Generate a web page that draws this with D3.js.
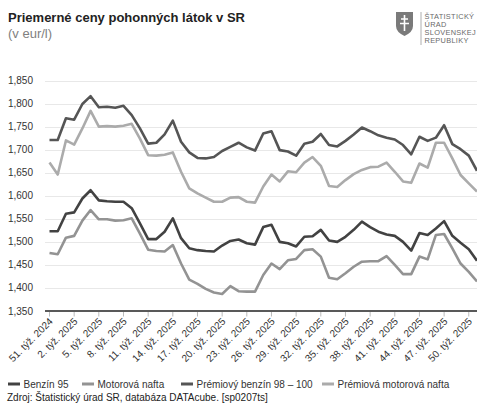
<html>
<head>
    <meta charset="utf-8">
    <title>Priemerne ceny pohonnych latok</title>
    <style type="text/css">
        body { margin: 0; background: #fff; }
        text { font-family: "Liberation Sans", Arial, sans-serif; }
        .grid line { stroke: #e8e8e8; stroke-width: 1; }
        .line { fill: none; stroke-width: 2.6; stroke-linejoin: round; }
    </style>
</head>
<body>
<script src="https://d3js.org/d3.v7.min.js"></script>
<script>

// weeks (categories)
var weeks = ["51. týž. 2024", "52. týž. 2024",
    "1. týž. 2025", "2. týž. 2025", "3. týž. 2025", "4. týž. 2025", "5. týž. 2025", "6. týž. 2025",
    "7. týž. 2025", "8. týž. 2025", "9. týž. 2025", "10. týž. 2025", "11. týž. 2025", "12. týž. 2025",
    "13. týž. 2025", "14. týž. 2025", "15. týž. 2025", "16. týž. 2025", "17. týž. 2025", "18. týž. 2025",
    "19. týž. 2025", "20. týž. 2025", "21. týž. 2025", "22. týž. 2025", "23. týž. 2025", "24. týž. 2025",
    "25. týž. 2025", "26. týž. 2025", "27. týž. 2025", "28. týž. 2025", "29. týž. 2025", "30. týž. 2025",
    "31. týž. 2025", "32. týž. 2025", "33. týž. 2025", "34. týž. 2025", "35. týž. 2025", "36. týž. 2025",
    "37. týž. 2025", "38. týž. 2025", "39. týž. 2025", "40. týž. 2025", "41. týž. 2025", "42. týž. 2025",
    "43. týž. 2025", "44. týž. 2025", "45. týž. 2025", "46. týž. 2025", "47. týž. 2025", "48. týž. 2025",
    "49. týž. 2025", "50. týž. 2025", "51. týž. 2025"];

// only every third week gets a label
var tickWeeks = ["51. týž. 2024", "2. týž. 2025", "5. týž. 2025", "8. týž. 2025", "11. týž. 2025",
    "14. týž. 2025", "17. týž. 2025", "20. týž. 2025", "23. týž. 2025", "26. týž. 2025", "29. týž. 2025",
    "32. týž. 2025", "35. týž. 2025", "38. týž. 2025", "41. týž. 2025", "44. týž. 2025", "47. týž. 2025",
    "50. týž. 2025"];

var yTicks = [1.35, 1.40, 1.45, 1.50, 1.55, 1.60, 1.65, 1.70, 1.75, 1.80, 1.85];

var benzin95 = [1.523, 1.523, 1.561, 1.564, 1.594, 1.612, 1.590, 1.588, 1.587, 1.587,
    1.573, 1.540, 1.506, 1.506, 1.522, 1.551, 1.508, 1.486, 1.482, 1.480,
    1.479, 1.492, 1.502, 1.505, 1.497, 1.494, 1.532, 1.537, 1.500, 1.497,
    1.490, 1.511, 1.512, 1.526, 1.503, 1.500, 1.511, 1.526, 1.544, 1.532,
    1.522, 1.516, 1.513, 1.500, 1.481, 1.519, 1.515, 1.529, 1.545, 1.513,
    1.498, 1.484, 1.459];

var nafta = [1.476, 1.473, 1.509, 1.513, 1.546, 1.569, 1.549, 1.549, 1.546, 1.547,
    1.551, 1.518, 1.483, 1.480, 1.479, 1.493, 1.453, 1.418, 1.409, 1.398,
    1.390, 1.387, 1.404, 1.393, 1.392, 1.392, 1.428, 1.453, 1.441, 1.460,
    1.463, 1.482, 1.484, 1.468, 1.422, 1.419, 1.432, 1.446, 1.457, 1.458,
    1.458, 1.469, 1.450, 1.430, 1.430, 1.468, 1.462, 1.515, 1.517, 1.486,
    1.453, 1.435, 1.414];

var premBenzin = [1.721, 1.721, 1.768, 1.765, 1.799, 1.816, 1.792, 1.793, 1.791, 1.795,
    1.775, 1.746, 1.713, 1.715, 1.733, 1.763, 1.717, 1.694, 1.682, 1.681,
    1.684, 1.697, 1.706, 1.715, 1.705, 1.698, 1.735, 1.740, 1.699, 1.696,
    1.687, 1.713, 1.717, 1.734, 1.710, 1.707, 1.719, 1.733, 1.748, 1.740,
    1.731, 1.726, 1.722, 1.710, 1.690, 1.728, 1.719, 1.726, 1.753, 1.712,
    1.701, 1.687, 1.654];

var premNafta = [1.672, 1.646, 1.720, 1.711, 1.746, 1.784, 1.750, 1.751, 1.750, 1.752,
    1.756, 1.724, 1.688, 1.687, 1.689, 1.694, 1.652, 1.616, 1.605, 1.596,
    1.587, 1.587, 1.596, 1.597, 1.587, 1.585, 1.620, 1.646, 1.631, 1.653,
    1.651, 1.672, 1.684, 1.665, 1.621, 1.619, 1.634, 1.647, 1.656, 1.662,
    1.663, 1.672, 1.652, 1.631, 1.628, 1.670, 1.661, 1.715, 1.715, 1.681,
    1.645, 1.627, 1.609];

var seriesNames = ["Benzín 95", "Motorová nafta", "Prémiový benzín 98 – 100", "Prémiová motorová nafta"];
var seriesValues = [benzin95, nafta, premBenzin, premNafta];
var colors = ["#424242", "#939393", "#555555", "#ababab"];

var W = 477, H = 408;

var svg = d3.select("body")
    .append("svg")
    .attr("width", W)
    .attr("height", H);

// scales
var xScale = d3.scalePoint()
    .domain(weeks)
    .range([49.5, 477]);

var yScale = d3.scaleLinear()
    .domain([1.35, 1.85])
    .range([311, 80.5]);

// title + subtitle
svg.append("text")
    .attr("x", 8)
    .attr("y", 21.5)
    .text("Priemerné ceny pohonných látok v SR")
    .style("font-size", "13px")
    .style("font-weight", "bold")
    .style("fill", "#222");

svg.append("text")
    .attr("x", 8)
    .attr("y", 37.5)
    .text("(v eur/l)")
    .style("font-size", "13px")
    .style("fill", "#808080");

// logo (shield + text)
var logo = svg.append("g");
logo.append("path")
    .attr("d", "M396,12 L413,12 L413,26 Q413,32 404.5,36 Q396,32 396,26 Z")
    .attr("fill", "#7a7a7a");
logo.append("path")
    .attr("d", "M404.5,15 L404.5,31 M401,19 L408,19 M400,23.5 L409,23.5")
    .attr("stroke", "#fff")
    .attr("stroke-width", 1.6)
    .attr("fill", "none");
logo.append("line")
    .attr("x1", 421).attr("x2", 421)
    .attr("y1", 12).attr("y2", 45)
    .attr("stroke", "#9a9a9a")
    .attr("stroke-width", 0.8);
["ŠTATISTICKÝ", "ÚRAD", "SLOVENSKEJ", "REPUBLIKY"].forEach(function(t, i){
    logo.append("text")
        .attr("x", 424.5)
        .attr("y", 18.5 + i * 8.3)
        .text(t)
        .style("font-size", "7.4px")
        .style("letter-spacing", "0.3px")
        .style("fill", "#6a6a6a");
});

// gridlines
svg.append("g")
    .attr("class", "grid")
    .selectAll("line")
    .data(yTicks.slice(1))
    .enter()
    .append("line")
    .attr("x1", 45)
    .attr("x2", W)
    .attr("y1", function(d){ return Math.round(yScale(d)) + 0.5; })
    .attr("y2", function(d){ return Math.round(yScale(d)) + 0.5; });

// y labels
svg.append("g")
    .selectAll("text")
    .data(yTicks)
    .enter()
    .append("text")
    .attr("x", 33)
    .attr("y", function(d){ return yScale(d); })
    .attr("dy", "0.35em")
    .attr("text-anchor", "end")
    .text(function(d){ return d3.format(".3f")(d).replace(".", ","); })
    .style("font-size", "10px")
    .style("fill", "#333");

// lines
var line = d3.line()
    .x(function(d, i){ return xScale(weeks[i]); })
    .y(function(d){ return yScale(d); });

// draw in order so the premium ones and benzin 95 sit on top
[1, 3, 0, 2].forEach(function(k){
    svg.append("path")
        .datum(seriesValues[k])
        .attr("class", "line")
        .attr("stroke", colors[k])
        .attr("d", line);
});

// x axis line + ticks
svg.append("line")
    .attr("x1", 45).attr("x2", W)
    .attr("y1", yScale(1.35)).attr("y2", yScale(1.35))
    .attr("stroke", "#222")
    .attr("stroke-width", 1.6);

var xAxis = svg.append("g");
xAxis.selectAll("line")
    .data(tickWeeks)
    .enter()
    .append("line")
    .attr("x1", function(d){ return xScale(d); })
    .attr("x2", function(d){ return xScale(d); })
    .attr("y1", 312)
    .attr("y2", 316.5)
    .attr("stroke", "#bbb");

xAxis.selectAll("text")
    .data(tickWeeks)
    .enter()
    .append("text")
    .attr("text-anchor", "end")
    .attr("transform", function(d){
        return "translate(" + (xScale(d) + 4) + ",322) rotate(-45)";
    })
    .text(function(d){ return d; })
    .style("font-size", "10px")
    .style("fill", "#333");

// legend
var legendX = [8, 82, 181, 322];
var legend = svg.append("g");
seriesNames.forEach(function(name, i){
    legend.append("line")
        .attr("x1", legendX[i]).attr("x2", legendX[i] + 12)
        .attr("y1", 384).attr("y2", 384)
        .attr("stroke", colors[i])
        .attr("stroke-width", 3);
    legend.append("text")
        .attr("x", legendX[i] + 15.5)
        .attr("y", 387.5)
        .text(name)
        .style("font-size", "10px")
        .style("fill", "#333");
});

// source
svg.append("text")
    .attr("x", 7)
    .attr("y", 401)
    .text("Zdroj: Štatistický úrad SR, databáza DATAcube. [sp0207ts]")
    .style("font-size", "10px")
    .style("fill", "#222");

</script>
</body>
</html>
